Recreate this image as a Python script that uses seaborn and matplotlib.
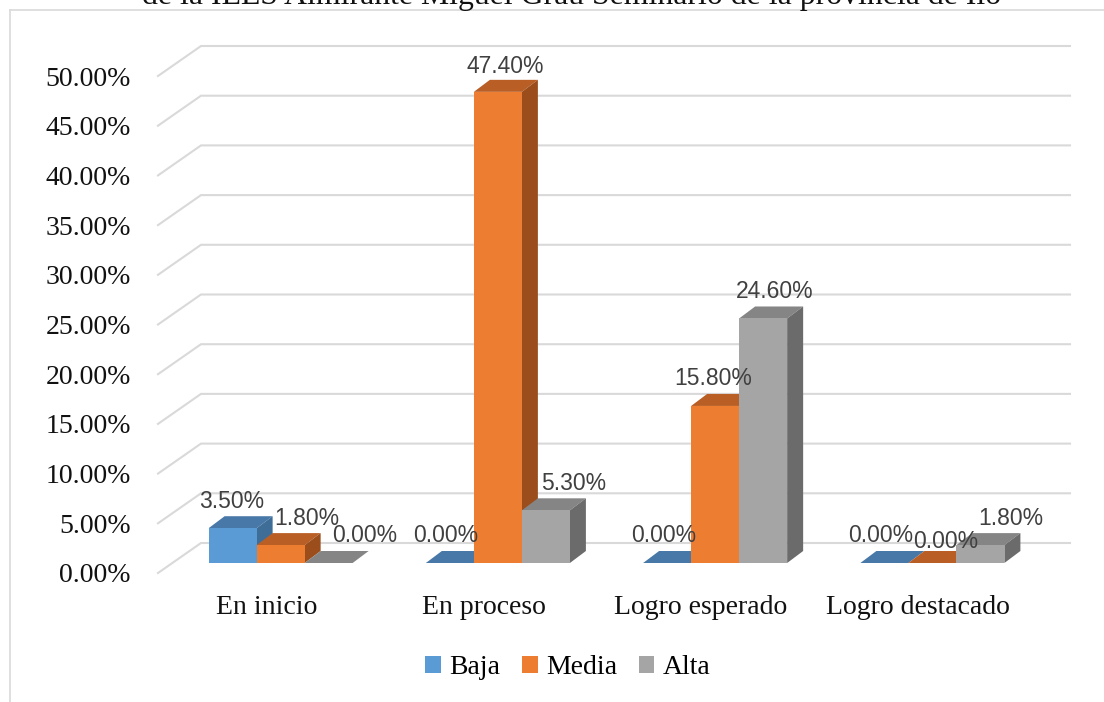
import matplotlib
matplotlib.use("Agg")
import matplotlib.pyplot as plt
from matplotlib.patches import Polygon, Patch
from matplotlib.lines import Line2D
import pandas as pd
import seaborn as sns

# ---- data -------------------------------------------------------------
categorias = ["En inicio", "En proceso", "Logro esperado", "Logro destacado"]
series = ["Baja", "Media", "Alta"]
baja = [3.5, 0.0, 0.0, 0.0]
media = [1.8, 47.4, 15.8, 0.0]
alta = [0.0, 5.3, 24.6, 1.8]
ticks = [0, 5, 10, 15, 20, 25, 30, 35, 40, 45, 50]
titulo = "de la IEES Almirante Miguel Grau Seminario de la provincia de Ilo"

# ---- styling ----------------------------------------------------------
color_frente = {"Baja": "#5B9BD5", "Media": "#ED7D31", "Alta": "#A5A5A5"}
color_tapa = {"Baja": "#4878A8", "Media": "#B95E25", "Alta": "#858585"}
color_lado = {"Baja": "#3E6D98", "Media": "#9C4D1C", "Alta": "#6B6B6B"}

# pixel nudges (dx, dy) for value labels that would otherwise collide
ajustes = {
    ("En inicio", "Baja"): (-9, 0), ("En inicio", "Media"): (18, 0),
    ("En inicio", "Alta"): (28, 0),
    ("En proceso", "Baja"): (-12, 0), ("En proceso", "Media"): (-1, -2),
    ("En proceso", "Alta"): (20, 0),
    ("Logro esperado", "Baja"): (-11, 0), ("Logro esperado", "Media"): (-10, 0),
    ("Logro esperado", "Alta"): (4, 0),
    ("Logro destacado", "Baja"): (-12, 0), ("Logro destacado", "Media"): (5, -6),
    ("Logro destacado", "Alta"): (22, 0),
}

SERIF = "Liberation Serif"
SANS = "Liberation Sans"

df = pd.DataFrame({
    "categoria": categorias * 3,
    "serie": sum([[s] * len(categorias) for s in series], []),
    "valor": baja + media + alta,
})

W, H = 1104, 702
fig = plt.figure(figsize=(W / 100, H / 100), dpi=100)
ax = fig.add_axes([172 / W, 139 / H, 869 / W, 497 / H])

sns.barplot(data=df, x="categoria", y="valor", hue="serie", order=categorias,
            hue_order=series, palette=color_frente, width=0.663, saturation=1,
            errorbar=None, legend=False, linewidth=0, ax=ax)

ax.set_xlim(-0.5, 3.5)
ax.set_ylim(0, 50)
ax.axis("off")

sx = 4.0 / 869   # data units per pixel (x)
sy = 50.0 / 497  # data units per pixel (y)


def off(x, y, dxp, dyp):
    return (x + dxp * sx, y + dyp * sy)


DEPTH = (16, 12)
BACK = (29, 20)
FLOOR = (-14, -10)

# back wall gridlines with the perspective diagonal on the left wall
for v in ticks:
    pts = [off(-0.5, v, *FLOOR), off(-0.5, v, *BACK), off(3.5, v, *BACK)]
    xs, ys = zip(*pts)
    ax.plot(xs, ys, color="#D9D9D9", lw=1.5, zorder=1, clip_on=False,
            solid_joinstyle="miter")
    ax.text(*off(-0.5, v, FLOOR[0] - 27, FLOOR[1] - 3), f"{v:.2f}%",
            ha="right", va="center", fontsize=20, family=SERIF,
            color="#111111", clip_on=False)

# gather bars and extrude them into boxes, drawn left to right
barras = []
for s, cont in zip(series, ax.containers):
    for cat, rect in zip(categorias, cont):
        barras.append((rect.get_x(), s, cat, rect))
barras.sort(key=lambda b: b[0])

for k, (_, s, cat, rect) in enumerate(barras):
    x0, w, h = rect.get_x(), rect.get_width(), rect.get_height()
    z = 3 + k * 0.1
    tapa = Polygon([(x0, h), (x0 + w, h), off(x0 + w, h, *DEPTH), off(x0, h, *DEPTH)],
                   closed=True, facecolor=color_tapa[s], edgecolor="none",
                   zorder=z, clip_on=False)
    lado = Polygon([(x0 + w, 0), (x0 + w, h), off(x0 + w, h, *DEPTH),
                    off(x0 + w, 0, *DEPTH)],
                   closed=True, facecolor=color_lado[s], edgecolor="none",
                   zorder=z, clip_on=False)
    ax.add_patch(tapa)
    ax.add_patch(lado)
    rect.set_zorder(z + 0.05)
    rect.set_clip_on(False)
    dx, dy = ajustes.get((cat, s), (0, 0))
    ax.text(*off(x0 + w / 2, h, 8 + dx, 27 + dy), f"{h:.2f}%",
            ha="center", va="center", fontsize=16.5, family=SANS,
            color="#404040", zorder=20, clip_on=False)

# category labels along the floor edge
for i, cat in enumerate(categorias):
    ax.text(*off(i, 0, FLOOR[0], -44), cat, ha="center", va="center",
            fontsize=20, family=SERIF, color="#111111", clip_on=False)

# legend
handles = [Patch(facecolor=color_frente[s], edgecolor="none", label=s) for s in series]
fig.legend(handles=handles, loc="center", bbox_to_anchor=(568 / W, 1 - 668 / H),
           ncol=3, frameon=False, prop={"family": SERIF, "size": 20},
           handlelength=0.55, handleheight=0.55, handletextpad=0.3,
           columnspacing=0.8)

# title (runs above the chart area) and chart border
fig.text(572 / W, 1 - 4 / H, titulo, ha="center", va="baseline",
         fontsize=22.9, family=SERIF, color="#111111")
fig.add_artist(Line2D([10 / W, 10 / W], [0, 1 - 10 / H], color="#D9D9D9",
                      lw=1.2, transform=fig.transFigure))
fig.add_artist(Line2D([10 / W, 1], [1 - 10 / H, 1 - 10 / H], color="#D9D9D9",
                      lw=1.2, transform=fig.transFigure))

fig.savefig("out.png", dpi=100)
